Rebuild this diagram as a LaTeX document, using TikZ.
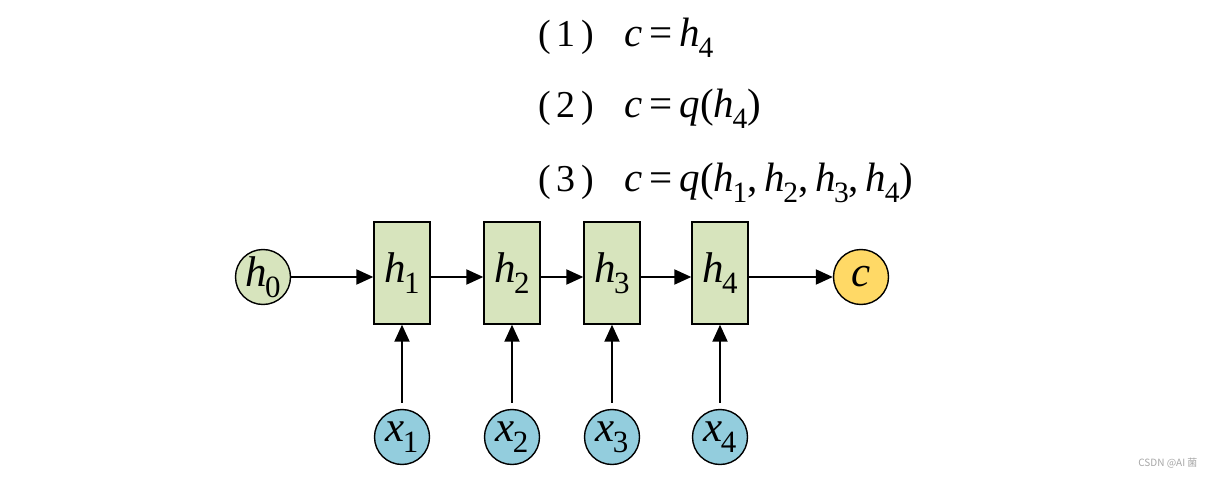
\documentclass[tikz,border=0pt]{standalone}
\usepackage{fontspec}
\setmainfont{LiberationSerif-Regular.ttf}[ItalicFont=LiberationSerif-Italic.ttf]
\newfontfamily\cjk{Noto Sans CJK SC}
\usetikzlibrary{arrows.meta}

\definecolor{stategreen}{HTML}{D7E4BD}
\definecolor{inputblue}{HTML}{93CDDD}
\definecolor{ctxyellow}{HTML}{FFD966}

% variable with a lowered subscript
\newcommand{\sv}[2]{\textit{#1}\kern-0.04em\raisebox{-0.25em}{\scalebox{0.72}{#2}}}
% numbered item in wide parentheses
\newcommand{\itemno}[1]{{\fontsize{38}{40}\selectfont(\kern0.15em#1\kern0.15em)}}

\tikzset{
    x=1pt, y=-1pt,
    label font/.style={font=\fontsize{43}{45}\selectfont},
    hidden/.style={draw, line width=1.4pt, fill=stategreen, label font,
        minimum width=56pt, minimum height=102pt, inner sep=0pt},
    startstate/.style={circle, draw, line width=1.4pt, fill=stategreen, label font,
        minimum size=55pt, inner sep=0pt},
    inputnode/.style={startstate, fill=inputblue},
    context/.style={startstate, fill=ctxyellow},
    equation/.style={anchor=base west, inner sep=0pt,
        font=\fontsize{41}{43}\selectfont},
    link/.style={-{Triangle[length=17pt,width=15pt]}, line width=2pt}
}

\begin{document}
\begin{tikzpicture}
    \useasboundingbox (0,0) rectangle (1217,478);

    \node[equation] (eq1) at (538,47)
        {\itemno{1}\kern0.75em\textit{c}\,=\,\sv{h}{4}};
    \node[equation] (eq2) at (538,118)
        {\itemno{2}\kern0.75em\textit{c}\,=\,\textit{q}(\sv{h}{4})};
    \node[equation] (eq3) at (538,192)
        {\itemno{3}\kern0.75em\textit{c}\,=\,\textit{q}(\sv{h}{1},\,\sv{h}{2},\,\sv{h}{3},\,\sv{h}{4})};

    \node[startstate] (h0) at (263,277) {\sv{h}{0}};
    \node[hidden] (h1) at (402,273) {\sv{h}{1}};
    \node[hidden] (h2) at (512,273) {\sv{h}{2}};
    \node[hidden] (h3) at (612,273) {\sv{h}{3}};
    \node[hidden] (h4) at (720,273) {\sv{h}{4}};
    \node[context] (c) at (861,277) {\textit{c}};

    \node[inputnode] (x1) at (402,437) {\sv{x}{1}};
    \node[inputnode] (x2) at (512,437) {\sv{x}{2}};
    \node[inputnode] (x3) at (612,437) {\sv{x}{3}};
    \node[inputnode] (x4) at (720,437) {\sv{x}{4}};

    \draw[link] (h0.east) -- (h0.east -| h1.west);
    \draw[link] (h1.east |- h0.east) -- (h0.east -| h2.west);
    \draw[link] (h2.east |- h0.east) -- (h0.east -| h3.west);
    \draw[link] (h3.east |- h0.east) -- (h0.east -| h4.west);
    \draw[link] (h4.east |- h0.east) -- (c.west);
    \foreach \i in {1,...,4}
        \draw[link, shorten <=6pt] (x\i.north) -- (h\i.south);

    \node[anchor=east, text=gray!70, font=\cjk\fontsize{10}{12}\selectfont]
        (mark) at (1201,463) {CSDN @AI 菌};
\end{tikzpicture}
\end{document}
